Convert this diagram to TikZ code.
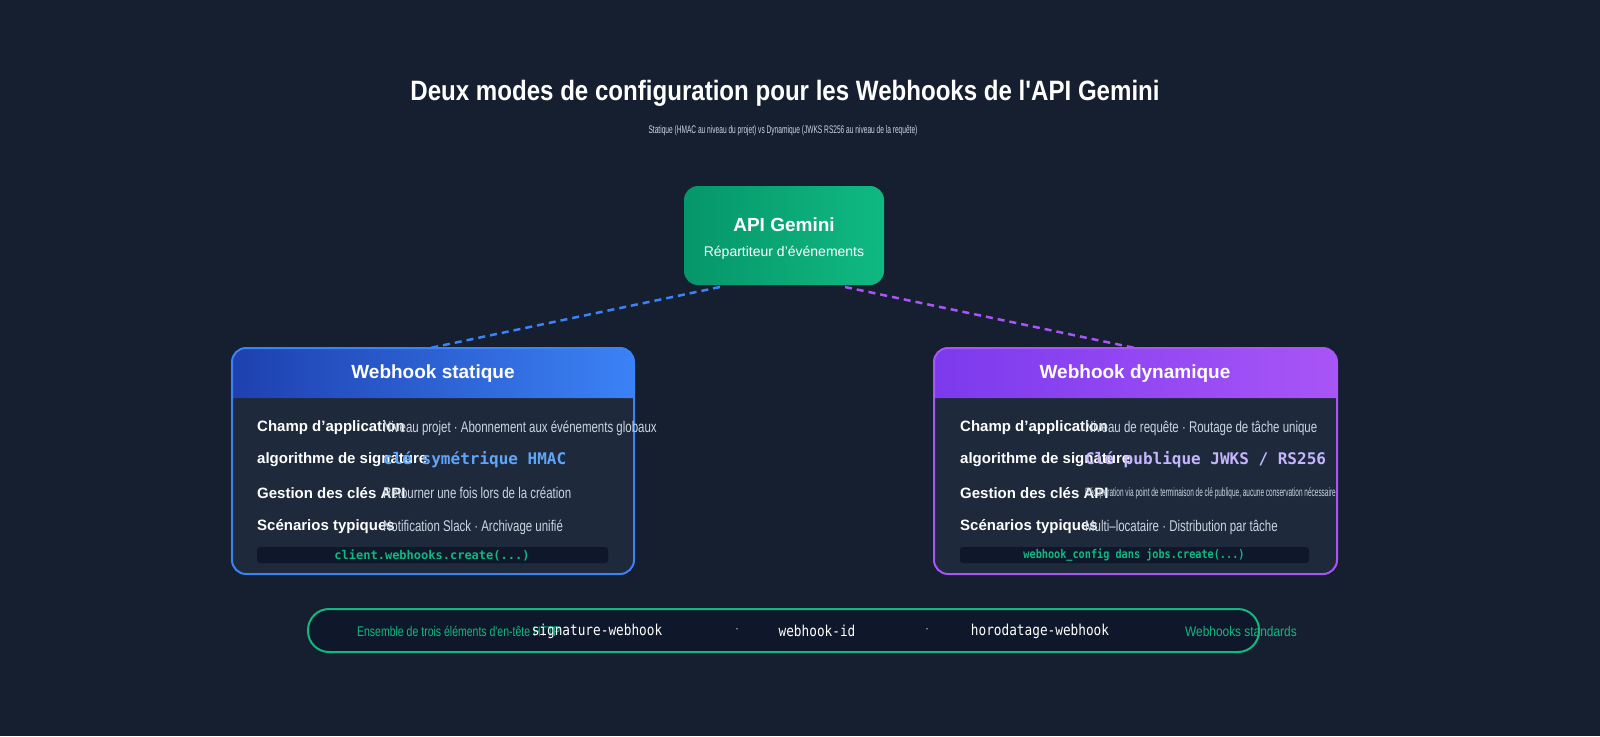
\documentclass[tikz,border=0pt]{standalone}
\usepackage{fontspec}
\setmainfont{Liberation Sans}
\newfontfamily\lib{Liberation Sans}
\newfontfamily\mono{DejaVu Sans Mono}
\usetikzlibrary{shadings}
\definecolor{bgA}{HTML}{111827}
\definecolor{bgB}{HTML}{1E293B}
\definecolor{bgM}{HTML}{161F30}
\definecolor{card}{HTML}{1E293B}
\definecolor{codebg}{HTML}{0F172A}
\definecolor{blueA}{HTML}{1E40AF}
\definecolor{blueB}{HTML}{3B82F6}
\definecolor{purA}{HTML}{7C3AED}
\definecolor{purB}{HTML}{A855F7}
\definecolor{greenA}{HTML}{059669}
\definecolor{greenB}{HTML}{10B981}
\definecolor{txt}{HTML}{CBD5E1}
\definecolor{hl}{HTML}{60A5FA}
\definecolor{hlp}{HTML}{C4B5FD}
\definecolor{codeg}{HTML}{10B981}
\tikzset{x=1pt,y=-1pt,
 lab/.style={anchor=west,text=white,font=\fontsize{15}{15}\selectfont\bfseries,inner sep=0pt},
 val/.style={anchor=west,text=txt,font=\fontsize{15.5}{15.5}\selectfont\lib,xscale=.74,inner sep=0pt},
 code/.style={anchor=center,text=codeg,font=\fontsize{12}{12}\selectfont\mono\bfseries},
 hdr/.style={text=white,font=\fontsize{19}{19}\selectfont\bfseries},
 link/.style={line width=2.5pt,dash pattern=on 7pt off 5pt}}
\begin{document}
\begin{tikzpicture}
\useasboundingbox (0,0) rectangle (1600,736);
\fill[bgM] (0,0) rectangle (1600,736);
\node[text=white,font=\fontsize{28}{28}\selectfont\lib\bfseries,xscale=.86] (title) at (785,93) {Deux modes de configuration pour les Webhooks de l'API Gemini};
\node[text=txt,font=\fontsize{11}{11}\selectfont\lib,xscale=.6] (sub) at (783,131) {Statique (HMAC au niveau du projet) vs Dynamique (JWKS RS256 au niveau de la requête)};
% API box
\shade[rounded corners=14pt,left color=greenA,right color=greenB] (684,186) rectangle (884,285);
\node[text=white,font=\fontsize{19}{19}\selectfont\bfseries] (api) at (784,225) {API Gemini};
\node[text=white,font=\fontsize{14}{14}\selectfont] (apis) at (784,253) {Répartiteur d'événements};
\coordinate (aL) at (720,287); \coordinate (aR) at (845,287);
\coordinate (cL) at (430,348); \coordinate (cR) at (1135,348);
\draw[link,blueB] (aL) -- (cL);
\draw[link,purB] (aR) -- (cR);
% left card
\fill[card,rounded corners=14pt] (232,348) rectangle (634,574);
\shade[left color=blueA,right color=blueB] (232,398) [rounded corners=14pt]-- (232,348) -- (634,348) [sharp corners]-- (634,398) -- cycle;
\draw[blueB,line width=2pt,rounded corners=14pt] (232,348) rectangle (634,574);
\node[hdr] (lh) at (433,374) {Webhook statique};
\node[lab] (l1) at (257,428) {Champ d'application};
\node[val] (v1) at (383,428) {Niveau projet · Abonnement aux événements globaux};
\node[lab] (l2) at (257,460) {algorithme de signature};
\node[anchor=west,inner sep=0pt,text=hl,font=\fontsize{16}{16}\selectfont\mono\bfseries] (v2) at (383,460) {clé symétrique HMAC};
\node[lab] (l3) at (257,493) {Gestion des clés API};
\node[val] (v3) at (383,493) {Retourner une fois lors de la création};
\node[lab] (l4) at (257,527) {Scénarios typiques};
\node[val] (v4) at (383,527) {Notification Slack · Archivage unifié};
\fill[codebg,rounded corners=3pt] (257,547) rectangle (608,563);
\node[code] (lc) at (432,555) {client.webhooks.create(...)};
% right card
\fill[card,rounded corners=14pt] (934,348) rectangle (1337,574);
\shade[left color=purA,right color=purB] (934,398) [rounded corners=14pt]-- (934,348) -- (1337,348) [sharp corners]-- (1337,398) -- cycle;
\draw[purB,line width=2pt,rounded corners=14pt] (934,348) rectangle (1337,574);
\node[hdr] (rh) at (1135,374) {Webhook dynamique};
\node[lab] (r1) at (960,428) {Champ d'application};
\node[val] (w1) at (1085,428) {Niveau de requête · Routage de tâche unique};
\node[lab] (r2) at (960,460) {algorithme de signature};
\node[anchor=west,inner sep=0pt,text=hlp,font=\fontsize{16}{16}\selectfont\mono\bfseries] (w2) at (1085,460) {Clé publique JWKS / RS256};
\node[lab] (r3) at (960,493) {Gestion des clés API};
\node[anchor=west,inner sep=0pt,text=txt,font=\fontsize{12}{12}\selectfont\lib,xscale=.54] (w3) at (1085,493) {Récupération via point de terminaison de clé publique, aucune conservation nécessaire};
\node[lab] (r4) at (960,527) {Scénarios typiques};
\node[val] (w4) at (1085,527) {Multi–locataire · Distribution par tâche};
\fill[codebg,rounded corners=3pt] (960,547) rectangle (1309,563);
\node[code,font=\fontsize{12}{12}\selectfont\mono\bfseries,xscale=.85] (rc) at (1134,555) {webhook\_config dans jobs.create(...)};
% bottom pill
\fill[codebg,rounded corners=21pt] (308,609) rectangle (1259,652);
\draw[greenB,line width=2pt,rounded corners=21pt] (308,609) rectangle (1259,652);
\node[anchor=west,inner sep=0pt,text=greenB,font=\fontsize{14}{14}\selectfont\lib,xscale=.75] (b1) at (357,631) {Ensemble de trois éléments d'en-tête HTTP};
\node[text=white,font=\fontsize{15}{15}\selectfont\mono,xscale=.85] (b2) at (597,631) {signature-webhook};
\node[text=txt,font=\fontsize{12}{12}\selectfont] (d1) at (737,631) {·};
\node[text=white,font=\fontsize{15}{15}\selectfont\mono,xscale=.85] (b3) at (817,631) {webhook-id};
\node[text=txt,font=\fontsize{12}{12}\selectfont] (d2) at (927,631) {·};
\node[text=white,font=\fontsize{15}{15}\selectfont\mono,xscale=.85] (b4) at (1040,631) {horodatage-webhook};
\node[anchor=west,inner sep=0pt,text=greenB,font=\fontsize{14}{14}\selectfont\lib,xscale=.85] (b5) at (1185,631) {Webhooks standards};
\end{tikzpicture}
\end{document}
